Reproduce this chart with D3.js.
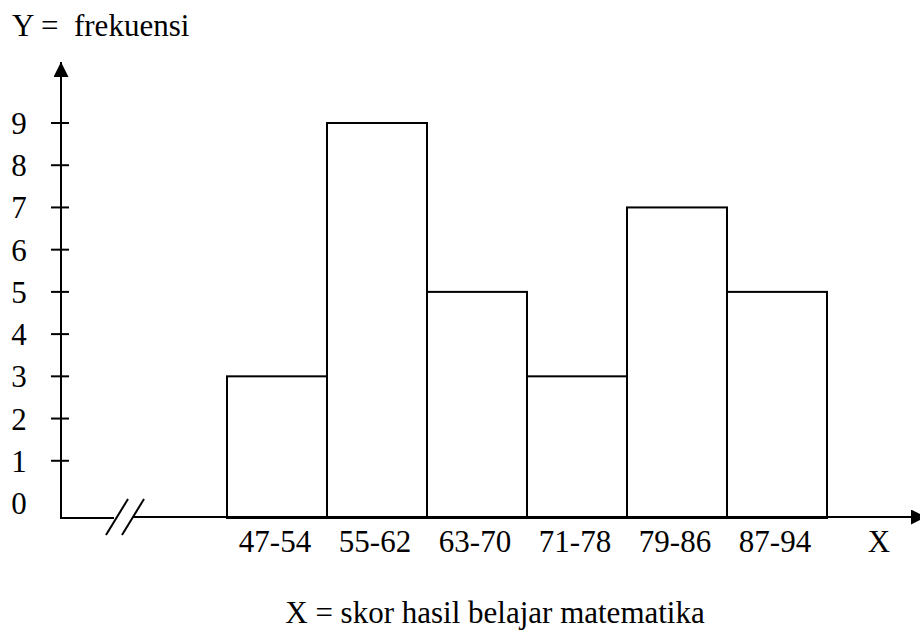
<!DOCTYPE html>
<html>
<head>
<meta charset="utf-8">
<script src="https://cdn.jsdelivr.net/npm/d3@7"></script>
<style>
  html, body { margin: 0; padding: 0; background: #fff; }
</style>
</head>
<body>
<svg id="chart" width="920" height="630"></svg>
<script>
// ---- data ----
const categories = ["47-54", "55-62", "63-70", "71-78", "79-86", "87-94"];
const frequencies = [3, 9, 5, 3, 7, 5];
const yTickValues = [0, 1, 2, 3, 4, 5, 6, 7, 8, 9];
const yTitle = "Y =  frekuensi";
const xEndLabel = "X";
const xTitle = "X = skor hasil belajar matematika";

// ---- layout ----
const FONT = "'Liberation Serif', 'Times New Roman', 'DejaVu Serif', serif";
const svg = d3.select("#chart")
  .attr("font-family", FONT)
  .style("font-family", FONT);
const axisX = 61;       // y-axis position
const baseY = 518;      // x-axis baseline
const fontSize = 31;

const x = d3.scaleBand().domain(categories).range([227, 827]).padding(0);
const y = d3.scaleLinear().domain([0, 9]).range([503, 123]);

// arrow marker
const defs = svg.append("defs");
defs.append("marker")
  .attr("id", "arrow")
  .attr("viewBox", "0 0 10 10")
  .attr("refX", 10).attr("refY", 5)
  .attr("markerWidth", 15).attr("markerHeight", 15)
  .attr("markerUnits", "userSpaceOnUse")
  .attr("orient", "auto")
  .append("path").attr("d", "M0,0 L10,5 L0,10 Z").attr("fill", "#000");

// bars
svg.append("g").selectAll("rect")
  .data(frequencies)
  .join("rect")
  .attr("x", (d, i) => x(categories[i]))
  .attr("y", d => y(d))
  .attr("width", x.bandwidth())
  .attr("height", d => baseY - y(d))
  .attr("fill", "#fff")
  .attr("stroke", "#000")
  .attr("stroke-width", 2);

// y axis line with arrow
svg.append("line")
  .attr("x1", axisX).attr("y1", baseY + 1)
  .attr("x2", axisX).attr("y2", 62)
  .attr("stroke", "#000").attr("stroke-width", 2)
  .attr("marker-end", "url(#arrow)");

// x axis with break
svg.append("line")
  .attr("x1", axisX - 1).attr("y1", baseY)
  .attr("x2", 114).attr("y2", baseY)
  .attr("stroke", "#000").attr("stroke-width", 2);
svg.append("line")
  .attr("x1", 133).attr("y1", baseY - 1)
  .attr("x2", 926).attr("y2", baseY - 1)
  .attr("stroke", "#000").attr("stroke-width", 2)
  .attr("marker-end", "url(#arrow)");
// break slashes
[[106, 128], [122, 144]].forEach(([a, b]) => {
  svg.append("line")
    .attr("x1", a).attr("y1", 535)
    .attr("x2", b).attr("y2", 499)
    .attr("stroke", "#000").attr("stroke-width", 2);
});

// y ticks and labels
const yAxisG = svg.append("g");
yAxisG.selectAll("line")
  .data(yTickValues.filter(v => v > 0))
  .join("line")
  .attr("x1", axisX - 10).attr("x2", axisX + 8)
  .attr("y1", d => y(d)).attr("y2", d => y(d))
  .attr("stroke", "#000").attr("stroke-width", 2);
yAxisG.selectAll("text")
  .data(yTickValues)
  .join("text")
  .attr("x", 19)
  .attr("y", d => y(d) + 11)
  .attr("text-anchor", "middle")
  .attr("font-size", fontSize)
  .text(d => d);

// x category labels
svg.append("g").selectAll("text")
  .data(categories)
  .join("text")
  .attr("x", d => x(d) + x.bandwidth() / 2 - 2)
  .attr("y", 552)
  .attr("text-anchor", "middle")
  .attr("font-size", fontSize)
  .text(d => d);

svg.append("text")
  .attr("x", 879).attr("y", 552)
  .attr("text-anchor", "middle")
  .attr("font-size", fontSize)
  .text(xEndLabel);

svg.append("text")
  .attr("x", 12).attr("y", 36)
  .attr("font-size", fontSize)
  .style("white-space", "pre")
  .text(yTitle);

svg.append("text")
  .attr("x", 495).attr("y", 623)
  .attr("text-anchor", "middle")
  .attr("font-size", fontSize)
  .text(xTitle);
</script>
</body>
</html>
